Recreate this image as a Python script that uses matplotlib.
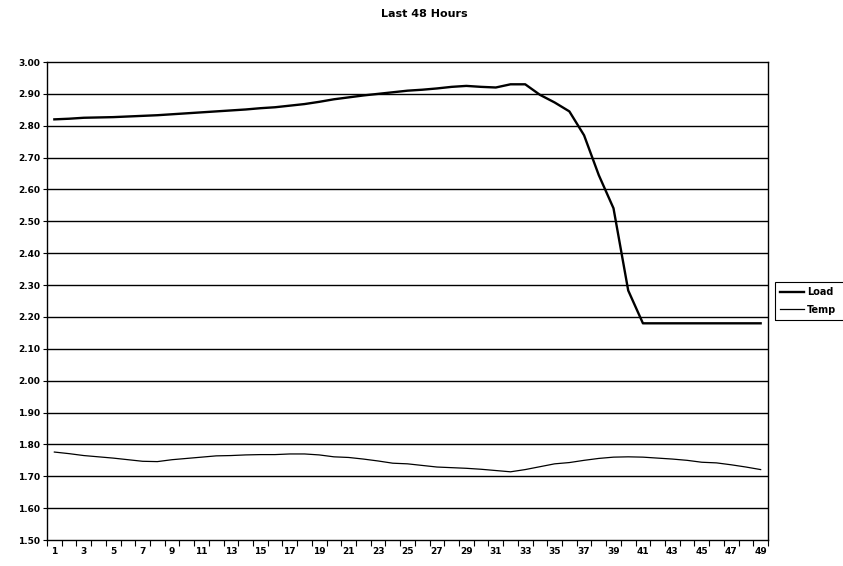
import matplotlib.pyplot as plt
from matplotlib.patches import Rectangle
import numpy as np

plt.rcParams['font.family'] = ['DejaVu Sans']

# Hourly readings, 49 points
hours = list(range(1, 50))
load = [2.820, 2.822, 2.825, 2.826, 2.827, 2.829, 2.831, 2.833, 2.836, 2.839,
        2.842, 2.845, 2.848, 2.851, 2.855, 2.858, 2.863, 2.868, 2.875, 2.883,
        2.889, 2.895, 2.900, 2.905, 2.910, 2.913, 2.917, 2.922, 2.925, 2.922,
        2.920, 2.930, 2.930, 2.897, 2.873, 2.845, 2.770, 2.645, 2.541, 2.283,
        2.180, 2.180, 2.180, 2.180, 2.180, 2.180, 2.180, 2.180, 2.180]
temp = [1.776, 1.771, 1.765, 1.761, 1.757, 1.752, 1.747, 1.746, 1.752, 1.756,
        1.760, 1.764, 1.765, 1.767, 1.768, 1.768, 1.770, 1.770, 1.767, 1.761,
        1.759, 1.754, 1.748, 1.741, 1.739, 1.734, 1.729, 1.727, 1.725, 1.722,
        1.718, 1.714, 1.721, 1.730, 1.739, 1.743, 1.750, 1.756, 1.760, 1.761,
        1.760, 1.757, 1.754, 1.750, 1.744, 1.742, 1.736, 1.729, 1.721]
yticks = np.round(np.arange(1.5, 3.001, 0.1), 2)

fig = plt.figure(figsize=(8.43, 5.66), dpi=100)
ax = fig.add_axes([47 / 843, 1 - 540 / 566, (768 - 47) / 843, (540 - 62) / 566])

ax.plot(hours, load, color='black', lw=1.7, label='Load')
ax.plot(hours, temp, color='black', lw=0.9, label='Temp')

ax.set_xlim(0.5, 49.5)
ax.set_ylim(1.5, 3.0)
ax.set_yticks(yticks)
ax.set_yticklabels(['%.2f' % v for v in yticks], fontsize=6.5, fontweight='bold')
for v in yticks[1:-1]:
    ax.axhline(v, color='black', lw=1.0, zorder=0)

ax.set_xticks(hours[::2])
ax.set_xticklabels([str(h) for h in hours[::2]], fontsize=6.5, fontweight='bold')
ax.set_xticks(np.arange(0.5, 50, 1), minor=True)
ax.tick_params(axis='x', which='major', length=0, pad=5)
ax.tick_params(axis='x', which='minor', length=4, width=0.8)
ax.tick_params(axis='y', length=3, width=0.8, pad=2)
for s in ax.spines.values():
    s.set_linewidth(1.0)

fig.text(424 / 843, 1 - 14 / 566, 'Last 48 Hours', ha='center', va='center',
         fontsize=8, fontweight='bold')

# legend, with a box that runs past the right edge like the original
leg = fig.legend(loc='upper left', bbox_to_anchor=(777 / 843, 1 - 284 / 566),
                 frameon=False, handlelength=2.4, handletextpad=0.3,
                 borderpad=0.35, borderaxespad=0.0, labelspacing=0.75,
                 prop={'weight': 'bold', 'size': 7})
fig.patches.append(Rectangle((775 / 843, 1 - 320 / 566), 80 / 843, 38 / 566,
                             transform=fig.transFigure, fill=False,
                             edgecolor='black', lw=0.8))

fig.savefig('out.png', dpi=100)
